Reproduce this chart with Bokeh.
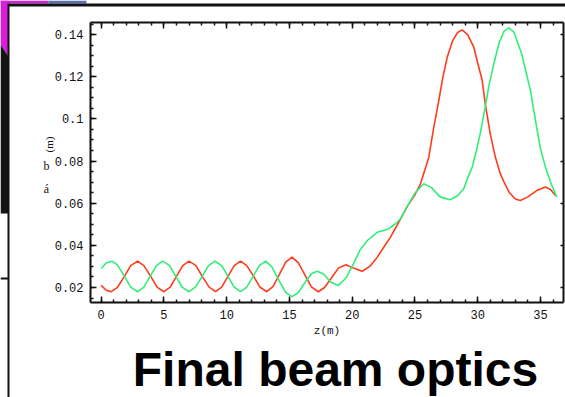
import math
from bokeh.plotting import figure
from bokeh.models import (Range1d, FixedTicker, NumeralTickFormatter, LinearAxis,
                          Label, BoxAnnotation, PolyAnnotation)
from bokeh.embed import file_html
from bokeh.resources import INLINE

# ---- data ----
red_z = [0.0, 0.4, 0.8, 1.3, 1.85, 2.35, 2.9, 3.4, 3.95, 4.45, 5.0, 5.5, 6.0, 6.5, 7.0,
         7.55, 8.05, 8.6, 9.1, 9.6, 10.1, 10.6, 11.1, 11.6, 12.15, 12.65, 13.2, 13.7,
         14.2, 14.7, 15.2, 15.7, 16.25, 16.75, 17.3, 17.8, 18.4, 18.9, 19.5, 20.1, 20.8,
         21.4, 22.0, 22.5, 23.05, 23.5, 23.85, 24.4, 25.0, 25.44, 25.8, 26.1, 26.5, 26.9,
         27.2, 27.57, 28.0, 28.4, 28.76, 29.2, 29.69, 30.0, 30.36, 30.6, 31.0, 31.4, 31.8,
         32.1, 32.5, 33.0, 33.4, 34.0, 34.7, 35.4, 35.8, 36.2]
red_v = [0.0210, 0.0187, 0.0180, 0.0201, 0.0253, 0.0304, 0.0325, 0.0304, 0.0253, 0.0202,
         0.0180, 0.0202, 0.0253, 0.0304, 0.0325, 0.0304, 0.0253, 0.0202, 0.0180, 0.0202,
         0.0253, 0.0304, 0.0325, 0.0304, 0.0253, 0.0202, 0.0180, 0.0205, 0.0262, 0.0320,
         0.0344, 0.0318, 0.0258, 0.0203, 0.0180, 0.0200, 0.0250, 0.0292, 0.0308, 0.0292,
         0.0277, 0.0300, 0.0344, 0.0390, 0.0439, 0.0487, 0.0526, 0.0586, 0.0640, 0.0692,
         0.0760, 0.0817, 0.0960, 0.1087, 0.1190, 0.1292, 0.1370, 0.1410, 0.1422, 0.1400,
         0.1340, 0.1265, 0.1182, 0.1072, 0.0929, 0.0820, 0.0740, 0.0700, 0.0652, 0.0620,
         0.0613, 0.0630, 0.0660, 0.0677, 0.0665, 0.0636]

green_z = [0.0, 0.4, 0.85, 1.3, 1.85, 2.35, 2.9, 3.4, 3.9, 4.4, 4.9, 5.45, 5.95, 6.45, 7.0,
           7.5, 8.05, 8.55, 9.05, 9.6, 10.1, 10.6, 11.1, 11.6, 12.1, 12.6, 13.1, 13.6,
           14.15, 14.7, 15.2, 15.7, 16.25, 16.75, 17.2, 17.7, 18.3, 18.9, 19.5, 20.1, 20.6,
           21.2, 22.0, 22.9, 23.4, 23.85, 24.4, 25.0, 25.7, 26.3, 27.0, 27.8, 28.4, 28.9,
           29.2, 29.56, 29.9, 30.2, 30.6, 30.9, 31.28, 31.7, 32.1, 32.48, 32.9, 33.5, 34.2,
           34.7, 35.0, 35.4, 35.8, 36.3]
green_v = [0.0290, 0.0316, 0.0325, 0.0307, 0.0253, 0.0202, 0.0180, 0.0202, 0.0253, 0.0304,
           0.0325, 0.0304, 0.0253, 0.0202, 0.0180, 0.0202, 0.0253, 0.0304, 0.0325, 0.0304,
           0.0253, 0.0202, 0.0180, 0.0202, 0.0253, 0.0304, 0.0325, 0.0298, 0.0235, 0.0177,
           0.0157, 0.0175, 0.0225, 0.0265, 0.0277, 0.0265, 0.0225, 0.0210, 0.0245, 0.0312,
           0.0375, 0.0423, 0.0462, 0.0478, 0.0500, 0.0526, 0.0586, 0.0648, 0.0692, 0.0675,
           0.0630, 0.0616, 0.0635, 0.0670, 0.0720, 0.0770, 0.0850, 0.0930, 0.1056, 0.1160,
           0.1260, 0.1360, 0.1415, 0.1432, 0.1410, 0.1309, 0.1135, 0.0960, 0.0860, 0.0770,
           0.0700, 0.0628]

x_major = [0, 5, 10, 15, 20, 25, 30, 35]
x_minor = list(range(0, 37))
y_major = [0.02, 0.04, 0.06, 0.08, 0.10, 0.12, 0.14]
y_minor = [round(0.015 + 0.005 * i, 3) for i in range(27)]

title_text = "Final beam optics"
x_label = "z(m)"

RED = "#ff3b1c"
GREEN = "#30ee78"
MONO = "Liberation Mono"
INK = "#111111"

W, H = 565, 397
# plot box limits (data units)
X0, X1 = -0.85, 36.8
Y0, Y1 = 0.0129, 0.1457

p = figure(width=W, height=H, output_backend="svg", toolbar_location=None,
           title_location=None,
           x_range=Range1d(-8.024, 36.996), y_range=Range1d(-0.03218, 0.15615),
           min_border=0, background_fill_color="white", border_fill_color="white")
p.grid.visible = False
p.outline_line_color = None


def style(ax, labels=True, minor=True):
    ax.axis_line_color = INK
    ax.axis_line_width = 2
    ax.major_tick_in = 6
    ax.major_tick_out = 0
    ax.minor_tick_in = 3 if minor else 0
    ax.minor_tick_out = 0
    ax.major_tick_line_color = INK
    ax.minor_tick_line_color = INK if minor else None
    ax.major_tick_line_width = 1.5
    ax.minor_tick_line_width = 1.5
    if labels:
        ax.major_label_text_font = MONO
        ax.major_label_text_font_size = "12px"
        ax.major_label_text_color = INK
    else:
        ax.major_label_text_font_size = "0px"
        ax.major_label_text_alpha = 0
        ax.major_label_standoff = 0


xa = p.xaxis[0]
xa.ticker = FixedTicker(ticks=x_major, minor_ticks=x_minor)
xa.fixed_location = Y0
xa.bounds = (X0, X1)
style(xa)
xa.major_label_standoff = 8
xa.axis_label = x_label
xa.axis_label_text_font = MONO
xa.axis_label_text_font_size = "11px"
xa.axis_label_text_font_style = "normal"
xa.axis_label_text_color = INK
xa.axis_label_standoff = 2

ya = p.yaxis[0]
ya.ticker = FixedTicker(ticks=y_major, minor_ticks=y_minor)
ya.formatter = NumeralTickFormatter(format="0.[00]")
ya.fixed_location = X0
ya.bounds = (Y0, Y1)
style(ya)
ya.major_label_standoff = 7

top = LinearAxis(ticker=FixedTicker(ticks=x_major, minor_ticks=x_minor),
                 fixed_location=Y1, bounds=(X0, X1))
style(top, labels=False)
p.add_layout(top, "above")
right = LinearAxis(ticker=FixedTicker(ticks=y_major, minor_ticks=[]),
                   fixed_location=X1, bounds=(Y0, Y1))
style(right, labels=False, minor=False)
right.major_tick_in = 3
p.add_layout(right, "right")

p.line(red_z, red_v, line_color=RED, line_width=1.6)
p.line(green_z, green_v, line_color=GREEN, line_width=1.6)


def cy(y_top):
    # canvas y measured from the top -> screen units (measured from the bottom)
    return H - y_top


def box(l, r, t, b, color):
    p.add_layout(BoxAnnotation(left=l, right=r, top=cy(t), bottom=cy(b),
                               left_units="screen", right_units="screen",
                               top_units="screen", bottom_units="screen",
                               fill_color=color, fill_alpha=1, line_color=None,
                               level="overlay"))


# slide decorations
p.add_layout(PolyAnnotation(xs=[0, 8, 8, 0], ys=[cy(0), cy(0), cy(56), cy(44)],
                            xs_units="screen", ys_units="screen",
                            fill_color="#d81ed8", fill_alpha=1, line_color=None))
p.add_layout(PolyAnnotation(xs=[0, 8, 8, 0], ys=[cy(44), cy(56), cy(213), cy(213)],
                            xs_units="screen", ys_units="screen",
                            fill_color="#151515", fill_alpha=1, line_color=None))
box(0, 48, 0, 3, "#d81ed8")
box(48, 86, 0, 3, "#5a6fb0")
box(8, W, 3, 6, INK)
box(7, 9, 3, H, INK)
box(0, 8, 277, 279, INK)


def lab(x, y_top, text, size, font="Liberation Serif", angle=0.0, style="normal",
        baseline="middle", color=INK):
    p.add_layout(Label(x=x, y=cy(y_top), x_units="screen", y_units="screen", text=text,
                       angle=angle, text_font=font, text_font_size=size,
                       text_font_style=style, text_align="center",
                       text_baseline=baseline, text_color=color))


# y label pieces
lab(48, 144, "(m)", "11px", angle=math.pi / 2)
lab(46, 165, "b", "12px")
lab(46, 188, "á", "12px")

# slide title (vertical centre of the cap height)
lab(335, 369, title_text, "48px", font="Liberation Sans", style="bold",
    baseline="middle", color="black")

open("out.html", "w").write(file_html(p, INLINE))
